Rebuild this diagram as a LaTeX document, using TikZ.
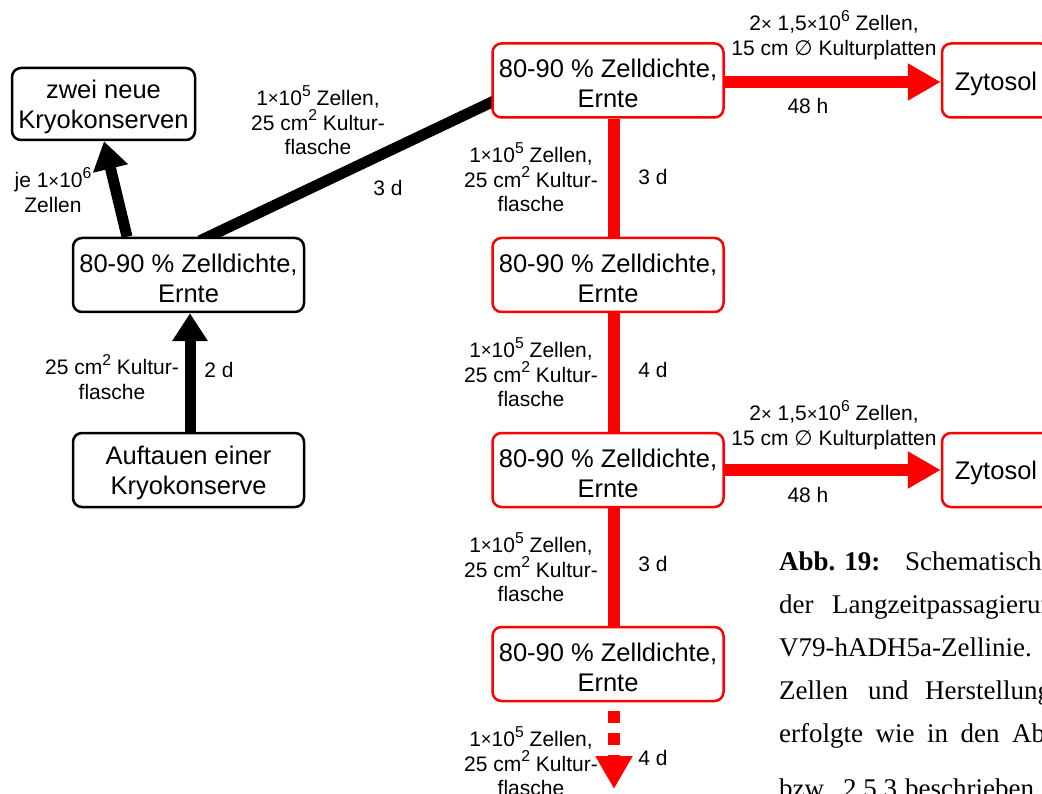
\documentclass[tikz,border=0pt]{standalone}
\usepackage{fontspec}
\usepackage{graphicx}
\setmainfont{Liberation Serif}
\newfontfamily\sansf{Liberation Sans}
\newfontfamily\dejavu{DejaVu Sans}
\usetikzlibrary{arrows.meta,backgrounds}
\newcommand{\boxfont}{\sansf\fontsize{25.5}{30}\selectfont}
\newcommand{\labfont}{\sansf\fontsize{21}{24.5}\selectfont}
\newcommand{\capfont}{\fontsize{27}{32}\selectfont}
\newcommand{\sx}{\raisebox{0.05ex}{\scalebox{0.88}{×}}}
\newcommand{\sq}[1]{\raisebox{0.45em}{\scalebox{0.75}{#1}}}
\newcommand{\tp}{\rule{0pt}{24.5pt}}
\tikzset{
  box/.style={draw=black, fill=white, line width=2.5pt, rounded corners=9pt,
    minimum width=231pt, minimum height=74pt, inner sep=0pt, align=center,
    font=\boxfont, text=black},
  rbox/.style={box, draw=red},
  lab/.style={inner sep=0pt, align=center, font=\labfont},
  blk/.style={line width=11pt, black},
  redl/.style={line width=12pt, red},
  bhead/.style={-{Triangle[length=28pt,width=34pt]}},
  rhead/.style={-{Triangle[length=33pt,width=35pt]}},
  capw/.style={anchor=base west, inner sep=0pt, font=\capfont},
}
\begin{document}
\begin{tikzpicture}[x=1pt,y=-1pt]
\useasboundingbox (0,0) rectangle (1042,794);
\clip (0,0) rectangle (1042,794);

% black part
\node[box, minimum width=183pt, minimum height=72pt] (kryoA) at (103.5,104) {\tp zwei neue\\Kryokonserven};
\node[box] (ernteL) at (188.5,275) {\tp 80-90 \% Zelldichte,\\Ernte};
\node[box] (auftau) at (188.5,470) {\tp Auftauen einer\\Kryokonserve};

% red column
\node[rbox] (r1) at (608,80.5) {\tp 80-90 \% Zelldichte,\\Ernte};
\node[rbox] (r2) at (608,275) {\tp 80-90 \% Zelldichte,\\Ernte};
\node[rbox] (r3) at (608,470) {\tp 80-90 \% Zelldichte,\\Ernte};
\node[rbox] (r4) at (608,664) {\tp 80-90 \% Zelldichte,\\Ernte};
\node[rbox, minimum width=108pt] (z1) at (996,80.5) {\tp Zytosol};
\node[rbox, minimum width=108pt] (z2) at (996,470) {\tp Zytosol};
\coordinate (endtip) at (614,789);

\begin{pgfonlayer}{background}
\draw[blk, bhead] ([xshift=1.5pt]auftau.north) -- ([xshift=1.5pt]ernteL.south);
\draw[blk, bhead] ([xshift=-61.5pt]ernteL.north) -- ([xshift=0.5pt]kryoA.south);
\draw[blk] ([xshift=11.5pt,yshift=-4pt]ernteL.north) -- ([xshift=6pt,yshift=-19pt]r1.west);
\draw[redl] ([xshift=6pt]r1.south) -- ([xshift=6pt]r2.north);
\draw[redl] ([xshift=6pt]r2.south) -- ([xshift=6pt]r3.north);
\draw[redl] ([xshift=6pt]r3.south) -- ([xshift=6pt]r4.north);
\draw[redl, rhead, dash pattern=on 12pt off 10pt, dash phase=13pt] ([xshift=6pt]r4.south) -- (endtip);
\draw[redl, rhead] ([yshift=-1.5pt]r1.east) -- ([yshift=-1.5pt]z1.west);
\draw[redl, rhead] (r3.east) -- (z2.west);
\end{pgfonlayer}

% labels
\node[lab] (l1) at (53,190) {je 1\sx10\sq{6}\\Zellen};
\node[lab] (l2) at (318,120) {1\sx10\sq{5} Zellen,\\25 cm\sq{2} Kultur-\\flasche};
\node[lab] (l3) at (388,188) {3 d};
\node[lab] (l4) at (112,377) {25 cm\sq{2} Kultur-\\flasche};
\node[lab] (l5) at (219,370) {2 d};

\node[lab] (m1) at (531,177) {1\sx10\sq{5} Zellen,\\25 cm\sq{2} Kultur-\\flasche};
\node[lab] (d1) at (653,177) {3 d};
\node[lab] (m2) at (531,372) {1\sx10\sq{5} Zellen,\\25 cm\sq{2} Kultur-\\flasche};
\node[lab] (d2) at (653,370) {4 d};
\node[lab] (m3) at (531,567) {1\sx10\sq{5} Zellen,\\25 cm\sq{2} Kultur-\\flasche};
\node[lab] (d3) at (653,564) {3 d};
\node[lab] (m4) at (531,761) {1\sx10\sq{5} Zellen,\\25 cm\sq{2} Kultur-\\flasche};
\node[lab] (d4) at (653,758) {4 d};

\node[lab] (h1) at (834,35) {2\sx{} 1,5\sx10\sq{6} Zellen,\\15 cm {\dejavu ∅} Kulturplatten};
\node[lab] (t1) at (808,106) {48 h};
\node[lab] (h2) at (834,425) {2\sx{} 1,5\sx10\sq{6} Zellen,\\15 cm {\dejavu ∅} Kulturplatten};
\node[lab] (t2) at (808,494.5) {48 h};

% caption
\node[capw] (c1a) at (779,570) {\textbf{Abb. 19:}};
\node[capw] (c1b) at (905,570) {Schematische};
\node[capw] (c2a) at (779,613) {der};
\node[capw] (c2b) at (832,613) {Langzeitpassagierung};
\node[capw] (c3a) at (779,656) {V79-hADH5a-Zellinie.};
\node[capw] (c4a) at (779,699) {Zellen};
\node[capw] (c4b) at (868,699) {und};
\node[capw] (c4c) at (925,699) {Herstellung};
\node[capw] (c5a) at (779,742) {erfolgte};
\node[capw] (c5b) at (875.5,742) {wie};
\node[capw] (c5c) at (927,742) {in};
\node[capw] (c5d) at (960.5,742) {den};
\node[capw] (c5e) at (1012,742) {Ab};
\node[capw] (c6a) at (779,797) {bzw.};
\node[capw] (c6b) at (843,797) {2.5.3};
\node[capw] (c6c) at (905,797) {beschrieben.};
\end{tikzpicture}
\end{document}
